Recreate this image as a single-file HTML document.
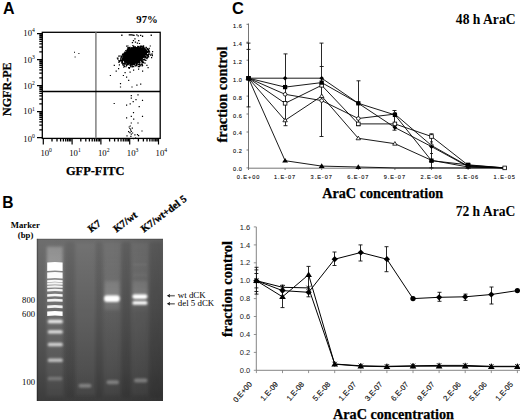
<!DOCTYPE html>
<html><head><meta charset="utf-8"><style>
html,body{margin:0;padding:0;background:#fff;width:520px;height:420px;overflow:hidden}
svg{display:block}
</style></head><body>
<svg width="520" height="420" viewBox="0 0 520 420"><text x="3" y="14" font-family="Liberation Sans" font-weight="bold" font-size="16">A</text>
<text x="136.3" y="22.6" font-family="Liberation Serif" font-weight="bold" font-size="10.7">97%</text>
<rect x="42.3" y="32.3" width="117.89999999999999" height="106.10000000000001" fill="none" stroke="#000" stroke-width="1.3"/>
<line x1="95.9" y1="32.3" x2="95.9" y2="138.4" stroke="#808080" stroke-width="1.5"/>
<line x1="42.3" y1="91.5" x2="160.2" y2="91.5" stroke="#000" stroke-width="1.6"/>
<path d="M43.3 138.4v6.2 M72.1 138.4v6.2 M100.9 138.4v6.2 M129.7 138.4v6.2 M158.5 138.4v6.2 M42.3 137.6h-5.3 M42.3 111.6h-5.3 M42.3 85.6h-5.3 M42.3 59.6h-5.3 M42.3 33.6h-5.3" stroke="#000" stroke-width="1.2" fill="none"/>
<path d="M52.0 138.4v3 M57.0 138.4v3 M60.6 138.4v3 M63.4 138.4v3 M65.7 138.4v3 M67.6 138.4v3 M69.3 138.4v3 M70.8 138.4v3 M80.8 138.4v3 M85.8 138.4v3 M89.4 138.4v3 M92.2 138.4v3 M94.5 138.4v3 M96.4 138.4v3 M98.1 138.4v3 M99.6 138.4v3 M109.6 138.4v3 M114.6 138.4v3 M118.2 138.4v3 M121.0 138.4v3 M123.3 138.4v3 M125.2 138.4v3 M126.9 138.4v3 M128.4 138.4v3 M138.4 138.4v3 M143.4 138.4v3 M147.0 138.4v3 M149.8 138.4v3 M152.1 138.4v3 M154.0 138.4v3 M155.7 138.4v3 M157.2 138.4v3 M42.3 129.8h-3 M42.3 125.2h-3 M42.3 121.9h-3 M42.3 119.4h-3 M42.3 117.4h-3 M42.3 115.6h-3 M42.3 114.1h-3 M42.3 112.8h-3 M42.3 103.8h-3 M42.3 99.2h-3 M42.3 95.9h-3 M42.3 93.4h-3 M42.3 91.4h-3 M42.3 89.6h-3 M42.3 88.1h-3 M42.3 86.8h-3 M42.3 77.8h-3 M42.3 73.2h-3 M42.3 69.9h-3 M42.3 67.4h-3 M42.3 65.4h-3 M42.3 63.6h-3 M42.3 62.1h-3 M42.3 60.8h-3 M42.3 51.8h-3 M42.3 47.2h-3 M42.3 43.9h-3 M42.3 41.4h-3 M42.3 39.4h-3 M42.3 37.6h-3 M42.3 36.1h-3 M42.3 34.8h-3" stroke="#000" stroke-width="1.3" fill="none"/>
<text x="40.4" y="155.8" font-family="Liberation Serif" font-size="8.7">10<tspan dy="-3.6" font-size="5.7">0</tspan></text>
<text x="23.3" y="142.0" font-family="Liberation Serif" font-size="8.7">10<tspan dy="-3.6" font-size="5.7">0</tspan></text>
<text x="69.2" y="155.8" font-family="Liberation Serif" font-size="8.7">10<tspan dy="-3.6" font-size="5.7">1</tspan></text>
<text x="23.3" y="114.4" font-family="Liberation Serif" font-size="8.7">10<tspan dy="-3.6" font-size="5.7">1</tspan></text>
<text x="98.0" y="155.8" font-family="Liberation Serif" font-size="8.7">10<tspan dy="-3.6" font-size="5.7">2</tspan></text>
<text x="23.3" y="88.8" font-family="Liberation Serif" font-size="8.7">10<tspan dy="-3.6" font-size="5.7">2</tspan></text>
<text x="126.8" y="155.8" font-family="Liberation Serif" font-size="8.7">10<tspan dy="-3.6" font-size="5.7">3</tspan></text>
<text x="23.3" y="62.7" font-family="Liberation Serif" font-size="8.7">10<tspan dy="-3.6" font-size="5.7">3</tspan></text>
<text x="155.6" y="155.8" font-family="Liberation Serif" font-size="8.7">10<tspan dy="-3.6" font-size="5.7">4</tspan></text>
<text x="23.3" y="35.8" font-family="Liberation Serif" font-size="8.7">10<tspan dy="-3.6" font-size="5.7">4</tspan></text>
<text x="95.2" y="174.8" text-anchor="middle" font-family="Liberation Serif" font-weight="bold" font-size="12.4" stroke="#000" stroke-width="0.25">GFP-FITC</text>
<text transform="translate(11.3 89.2) rotate(-90)" text-anchor="middle" font-family="Liberation Serif" font-weight="bold" font-size="12.1" stroke="#000" stroke-width="0.25">NGFR-PE</text>
<path d="M128.5 48.7 L136.7 47.0 L143.4 48.0 L146.4 51.4 L145.5 56.1 L142.0 59.5 L138.7 62.8 L134.0 64.2 L128.5 64.2 L124.5 62.2 L121.8 58.8 L123.2 55.4 L125.8 52.0z" fill="#000"/>
<path d="M134.7 51.9h1.3v1.3h-1.3zM136.5 53.1h1.3v1.3h-1.3zM139.4 52.2h1.3v1.3h-1.3zM141.3 54.2h1.3v1.3h-1.3zM124.5 60.3h1.3v1.3h-1.3zM130.8 49.4h1.3v1.3h-1.3zM121.2 59.8h1.3v1.3h-1.3zM143.6 48.9h1.3v1.3h-1.3zM142.0 60.6h1.3v1.3h-1.3zM136.7 55.3h1.3v1.3h-1.3zM131.8 63.2h1.3v1.3h-1.3zM147.8 48.8h1.3v1.3h-1.3zM127.7 63.4h1.3v1.3h-1.3zM122.8 53.8h1.3v1.3h-1.3zM120.7 56.4h1.3v1.3h-1.3zM137.1 48.0h1.3v1.3h-1.3zM127.0 59.5h1.3v1.3h-1.3zM133.7 61.5h1.3v1.3h-1.3zM128.0 53.2h1.3v1.3h-1.3zM131.4 56.4h1.3v1.3h-1.3zM120.4 57.7h1.3v1.3h-1.3zM144.5 56.2h1.3v1.3h-1.3zM126.1 58.8h1.3v1.3h-1.3zM121.1 60.3h1.3v1.3h-1.3zM121.9 53.9h1.3v1.3h-1.3zM126.3 55.4h1.3v1.3h-1.3zM133.1 58.2h1.3v1.3h-1.3zM143.4 59.1h1.3v1.3h-1.3zM125.0 57.7h1.3v1.3h-1.3zM145.5 57.3h1.3v1.3h-1.3zM138.2 57.2h1.3v1.3h-1.3zM133.6 64.3h1.3v1.3h-1.3zM130.8 58.3h1.3v1.3h-1.3zM128.3 56.5h1.3v1.3h-1.3zM133.7 50.9h1.3v1.3h-1.3zM135.5 54.7h1.3v1.3h-1.3zM138.7 57.5h1.3v1.3h-1.3zM136.2 64.6h1.3v1.3h-1.3zM141.7 54.2h1.3v1.3h-1.3zM130.9 50.9h1.3v1.3h-1.3zM134.2 47.1h1.3v1.3h-1.3zM144.9 49.0h1.3v1.3h-1.3zM143.7 58.9h1.3v1.3h-1.3zM147.7 54.4h1.3v1.3h-1.3zM128.1 57.3h1.3v1.3h-1.3zM128.6 51.2h1.3v1.3h-1.3zM123.5 55.5h1.3v1.3h-1.3zM124.2 51.6h1.3v1.3h-1.3zM131.8 57.1h1.3v1.3h-1.3zM136.9 58.1h1.3v1.3h-1.3zM127.9 50.4h1.3v1.3h-1.3zM135.7 61.9h1.3v1.3h-1.3zM138.8 63.9h1.3v1.3h-1.3zM133.1 58.3h1.3v1.3h-1.3zM143.9 47.6h1.3v1.3h-1.3zM132.7 52.5h1.3v1.3h-1.3zM132.0 64.0h1.3v1.3h-1.3zM144.2 49.6h1.3v1.3h-1.3zM141.1 49.1h1.3v1.3h-1.3zM133.8 55.7h1.3v1.3h-1.3zM130.7 48.2h1.3v1.3h-1.3zM119.7 60.1h1.3v1.3h-1.3zM130.7 49.5h1.3v1.3h-1.3zM127.1 52.9h1.3v1.3h-1.3zM126.6 54.3h1.3v1.3h-1.3zM143.7 55.1h1.3v1.3h-1.3zM131.7 51.1h1.3v1.3h-1.3zM140.2 49.4h1.3v1.3h-1.3zM135.6 53.0h1.3v1.3h-1.3zM132.9 46.4h1.3v1.3h-1.3zM144.5 53.7h1.3v1.3h-1.3zM129.0 57.9h1.3v1.3h-1.3zM127.3 50.9h1.3v1.3h-1.3zM133.2 61.9h1.3v1.3h-1.3zM128.4 54.9h1.3v1.3h-1.3zM134.0 63.9h1.3v1.3h-1.3zM131.0 59.0h1.3v1.3h-1.3zM139.7 49.5h1.3v1.3h-1.3zM134.1 60.1h1.3v1.3h-1.3zM123.9 55.5h1.3v1.3h-1.3zM132.9 63.6h1.3v1.3h-1.3zM129.3 47.8h1.3v1.3h-1.3zM125.6 54.0h1.3v1.3h-1.3zM141.4 45.5h1.3v1.3h-1.3zM133.2 45.8h1.3v1.3h-1.3zM140.6 52.4h1.3v1.3h-1.3zM127.2 50.6h1.3v1.3h-1.3zM147.8 54.4h1.3v1.3h-1.3zM120.8 56.1h1.3v1.3h-1.3zM127.8 47.5h1.3v1.3h-1.3zM129.8 56.8h1.3v1.3h-1.3zM137.9 50.5h1.3v1.3h-1.3zM124.7 51.8h1.3v1.3h-1.3zM142.6 55.0h1.3v1.3h-1.3zM138.5 63.6h1.3v1.3h-1.3zM136.1 52.2h1.3v1.3h-1.3zM136.6 50.4h1.3v1.3h-1.3zM133.3 46.8h1.3v1.3h-1.3zM137.4 61.6h1.3v1.3h-1.3zM121.7 60.8h1.3v1.3h-1.3zM140.0 45.7h1.3v1.3h-1.3zM128.2 58.9h1.3v1.3h-1.3zM128.9 48.8h1.3v1.3h-1.3zM124.4 59.5h1.3v1.3h-1.3zM126.4 53.8h1.3v1.3h-1.3zM127.1 57.2h1.3v1.3h-1.3zM133.8 52.6h1.3v1.3h-1.3zM137.6 58.9h1.3v1.3h-1.3zM138.8 49.6h1.3v1.3h-1.3zM129.3 60.1h1.3v1.3h-1.3zM129.6 63.0h1.3v1.3h-1.3zM130.6 54.7h1.3v1.3h-1.3zM132.5 46.9h1.3v1.3h-1.3zM133.2 52.4h1.3v1.3h-1.3zM133.3 50.1h1.3v1.3h-1.3zM139.3 51.7h1.3v1.3h-1.3zM139.0 53.0h1.3v1.3h-1.3zM146.7 48.1h1.3v1.3h-1.3zM137.0 63.2h1.3v1.3h-1.3zM138.3 54.4h1.3v1.3h-1.3zM120.3 60.2h1.3v1.3h-1.3zM137.1 45.8h1.3v1.3h-1.3zM138.7 56.0h1.3v1.3h-1.3zM128.5 48.0h1.3v1.3h-1.3zM135.9 51.3h1.3v1.3h-1.3zM139.7 54.9h1.3v1.3h-1.3zM128.7 47.0h1.3v1.3h-1.3zM133.3 62.4h1.3v1.3h-1.3zM144.3 55.7h1.3v1.3h-1.3zM144.1 55.2h1.3v1.3h-1.3zM142.7 48.1h1.3v1.3h-1.3zM135.5 54.6h1.3v1.3h-1.3zM146.3 57.9h1.3v1.3h-1.3zM122.2 62.4h1.3v1.3h-1.3zM144.3 50.4h1.3v1.3h-1.3zM139.0 64.3h1.3v1.3h-1.3zM130.1 65.5h1.3v1.3h-1.3zM136.2 49.7h1.3v1.3h-1.3zM141.9 62.1h1.3v1.3h-1.3zM139.1 48.9h1.3v1.3h-1.3zM124.7 54.1h1.3v1.3h-1.3zM126.9 50.2h1.3v1.3h-1.3zM126.0 64.8h1.3v1.3h-1.3zM134.7 46.2h1.3v1.3h-1.3zM142.2 56.9h1.3v1.3h-1.3zM138.9 51.5h1.3v1.3h-1.3zM128.5 53.0h1.3v1.3h-1.3zM120.7 55.5h1.3v1.3h-1.3zM126.0 50.4h1.3v1.3h-1.3zM143.7 54.5h1.3v1.3h-1.3zM141.9 57.0h1.3v1.3h-1.3zM139.1 55.6h1.3v1.3h-1.3zM129.4 46.7h1.3v1.3h-1.3zM139.5 55.2h1.3v1.3h-1.3zM124.4 61.9h1.3v1.3h-1.3zM139.0 47.5h1.3v1.3h-1.3zM129.5 55.3h1.3v1.3h-1.3zM138.6 53.6h1.3v1.3h-1.3zM145.8 52.8h1.3v1.3h-1.3zM134.9 65.3h1.3v1.3h-1.3zM133.6 62.3h1.3v1.3h-1.3zM122.6 53.2h1.3v1.3h-1.3zM129.3 64.5h1.3v1.3h-1.3zM131.6 59.4h1.3v1.3h-1.3zM126.2 62.3h1.3v1.3h-1.3zM131.5 49.2h1.3v1.3h-1.3zM148.4 51.5h1.3v1.3h-1.3zM127.3 47.6h1.3v1.3h-1.3zM123.9 56.2h1.3v1.3h-1.3zM129.7 62.2h1.3v1.3h-1.3zM140.3 51.8h1.3v1.3h-1.3zM140.2 47.5h1.3v1.3h-1.3zM135.5 48.1h1.3v1.3h-1.3zM132.6 56.9h1.3v1.3h-1.3zM131.5 59.4h1.3v1.3h-1.3zM127.2 53.9h1.3v1.3h-1.3zM139.3 62.2h1.3v1.3h-1.3zM133.5 56.4h1.3v1.3h-1.3zM126.8 56.0h1.3v1.3h-1.3zM129.4 59.1h1.3v1.3h-1.3zM148.0 49.1h1.3v1.3h-1.3zM148.1 53.3h1.3v1.3h-1.3zM133.2 48.3h1.3v1.3h-1.3zM125.2 50.0h1.3v1.3h-1.3zM123.8 60.3h1.3v1.3h-1.3zM138.4 61.8h1.3v1.3h-1.3zM142.0 60.7h1.3v1.3h-1.3zM141.3 46.1h1.3v1.3h-1.3zM140.7 55.4h1.3v1.3h-1.3zM140.2 52.0h1.3v1.3h-1.3zM135.9 47.8h1.3v1.3h-1.3zM123.9 54.0h1.3v1.3h-1.3zM124.6 54.4h1.3v1.3h-1.3zM139.6 46.1h1.3v1.3h-1.3zM143.1 47.2h1.3v1.3h-1.3zM126.9 59.8h1.3v1.3h-1.3zM130.2 63.7h1.3v1.3h-1.3zM126.7 62.5h1.3v1.3h-1.3zM139.0 53.9h1.3v1.3h-1.3zM136.1 49.1h1.3v1.3h-1.3zM125.3 61.0h1.3v1.3h-1.3zM137.7 49.7h1.3v1.3h-1.3zM127.3 64.0h1.3v1.3h-1.3zM147.1 48.8h1.3v1.3h-1.3zM129.4 60.3h1.3v1.3h-1.3zM136.3 48.4h1.3v1.3h-1.3zM137.9 63.8h1.3v1.3h-1.3zM146.4 55.5h1.3v1.3h-1.3zM145.5 46.8h1.3v1.3h-1.3zM131.9 60.4h1.3v1.3h-1.3zM126.7 59.4h1.3v1.3h-1.3zM128.5 57.7h1.3v1.3h-1.3zM137.5 51.1h1.3v1.3h-1.3zM136.1 47.9h1.3v1.3h-1.3zM145.8 54.2h1.3v1.3h-1.3zM137.5 53.1h1.3v1.3h-1.3zM121.8 59.5h1.3v1.3h-1.3zM140.8 52.9h1.3v1.3h-1.3zM141.1 49.4h1.3v1.3h-1.3zM130.8 50.9h1.3v1.3h-1.3zM147.9 56.1h1.3v1.3h-1.3zM142.8 59.0h1.3v1.3h-1.3zM122.3 53.6h1.3v1.3h-1.3zM148.6 50.7h1.3v1.3h-1.3zM140.7 46.0h1.3v1.3h-1.3zM132.0 48.9h1.3v1.3h-1.3zM143.4 49.2h1.3v1.3h-1.3zM147.1 51.0h1.3v1.3h-1.3zM138.0 56.8h1.3v1.3h-1.3zM143.7 53.5h1.3v1.3h-1.3zM147.3 50.7h1.3v1.3h-1.3zM127.1 60.6h1.3v1.3h-1.3zM130.5 57.6h1.3v1.3h-1.3zM133.6 58.2h1.3v1.3h-1.3zM136.5 57.9h1.3v1.3h-1.3zM132.7 57.0h1.3v1.3h-1.3zM127.9 54.0h1.3v1.3h-1.3zM145.7 50.9h1.3v1.3h-1.3zM139.1 51.8h1.3v1.3h-1.3zM129.9 57.2h1.3v1.3h-1.3zM139.5 48.1h1.3v1.3h-1.3zM141.2 48.4h1.3v1.3h-1.3zM138.6 47.5h1.3v1.3h-1.3zM133.9 54.5h1.3v1.3h-1.3zM124.0 62.6h1.3v1.3h-1.3zM122.3 55.7h1.3v1.3h-1.3zM123.5 53.4h1.3v1.3h-1.3zM136.2 62.7h1.3v1.3h-1.3zM131.2 58.8h1.3v1.3h-1.3zM138.2 55.8h1.3v1.3h-1.3zM120.2 57.5h1.3v1.3h-1.3zM127.6 60.3h1.3v1.3h-1.3zM135.6 56.7h1.3v1.3h-1.3zM130.2 65.9h1.3v1.3h-1.3zM126.2 63.7h1.3v1.3h-1.3zM144.9 56.1h1.3v1.3h-1.3zM136.3 53.9h1.3v1.3h-1.3zM137.9 52.4h1.3v1.3h-1.3zM130.8 55.4h1.3v1.3h-1.3zM143.3 49.1h1.3v1.3h-1.3zM128.0 59.1h1.3v1.3h-1.3zM127.7 50.2h1.3v1.3h-1.3zM133.0 54.9h1.3v1.3h-1.3zM136.0 56.9h1.3v1.3h-1.3zM133.8 57.7h1.3v1.3h-1.3zM141.5 52.8h1.3v1.3h-1.3zM126.5 60.6h1.3v1.3h-1.3zM141.1 58.0h1.3v1.3h-1.3zM128.4 59.3h1.3v1.3h-1.3zM130.2 61.7h1.3v1.3h-1.3zM133.5 57.2h1.3v1.3h-1.3zM139.0 60.9h1.3v1.3h-1.3zM124.1 64.2h1.3v1.3h-1.3zM140.7 45.5h1.3v1.3h-1.3zM132.9 59.0h1.3v1.3h-1.3zM122.2 62.6h1.3v1.3h-1.3zM136.4 53.6h1.3v1.3h-1.3zM145.4 50.3h1.3v1.3h-1.3zM142.9 51.4h1.3v1.3h-1.3zM136.8 51.3h1.3v1.3h-1.3zM130.7 52.7h1.3v1.3h-1.3zM130.2 61.6h1.3v1.3h-1.3zM147.5 49.5h1.3v1.3h-1.3zM143.0 46.4h1.3v1.3h-1.3zM134.6 52.7h1.3v1.3h-1.3zM140.6 51.0h1.3v1.3h-1.3zM133.2 46.6h1.3v1.3h-1.3zM142.5 47.9h1.3v1.3h-1.3zM138.0 46.1h1.3v1.3h-1.3zM133.6 58.6h1.3v1.3h-1.3zM127.7 63.0h1.3v1.3h-1.3zM136.1 49.8h1.3v1.3h-1.3zM124.8 63.2h1.3v1.3h-1.3zM126.6 57.0h1.3v1.3h-1.3zM123.0 53.3h1.3v1.3h-1.3zM140.5 51.4h1.3v1.3h-1.3zM129.0 63.0h1.3v1.3h-1.3zM142.2 47.4h1.3v1.3h-1.3zM148.9 51.4h1.3v1.3h-1.3zM123.9 52.5h1.3v1.3h-1.3zM143.0 47.7h1.3v1.3h-1.3zM130.0 64.0h1.3v1.3h-1.3zM142.0 53.0h1.3v1.3h-1.3zM138.9 55.2h1.3v1.3h-1.3zM129.7 57.5h1.3v1.3h-1.3zM122.0 58.8h1.3v1.3h-1.3zM135.0 47.5h1.3v1.3h-1.3zM133.7 54.9h1.3v1.3h-1.3zM137.5 55.5h1.3v1.3h-1.3zM124.9 55.8h1.3v1.3h-1.3zM140.0 47.6h1.3v1.3h-1.3zM148.0 50.2h1.3v1.3h-1.3zM127.0 58.9h1.3v1.3h-1.3zM136.1 61.9h1.3v1.3h-1.3zM132.7 57.0h1.3v1.3h-1.3zM146.2 54.2h1.3v1.3h-1.3zM123.0 63.1h1.3v1.3h-1.3zM133.7 54.0h1.3v1.3h-1.3zM125.6 54.7h1.3v1.3h-1.3zM123.6 54.8h1.3v1.3h-1.3zM135.9 51.2h1.3v1.3h-1.3zM124.9 55.5h1.3v1.3h-1.3zM141.1 61.1h1.3v1.3h-1.3zM123.7 59.7h1.3v1.3h-1.3zM139.8 49.4h1.3v1.3h-1.3zM141.2 55.0h1.3v1.3h-1.3zM127.1 60.1h1.3v1.3h-1.3zM129.2 58.1h1.3v1.3h-1.3zM136.0 53.1h1.3v1.3h-1.3zM134.4 47.6h1.3v1.3h-1.3zM132.5 59.1h1.3v1.3h-1.3zM120.4 59.8h1.3v1.3h-1.3zM135.3 65.2h1.3v1.3h-1.3zM142.5 54.2h1.3v1.3h-1.3zM141.1 47.7h1.3v1.3h-1.3zM141.3 52.9h1.3v1.3h-1.3zM131.5 59.9h1.3v1.3h-1.3zM127.8 51.4h1.3v1.3h-1.3zM140.9 48.4h1.3v1.3h-1.3zM122.6 57.0h1.3v1.3h-1.3zM122.1 59.6h1.3v1.3h-1.3zM139.1 62.1h1.3v1.3h-1.3zM126.7 48.7h1.3v1.3h-1.3zM144.0 57.3h1.3v1.3h-1.3zM139.2 51.3h1.3v1.3h-1.3zM135.3 53.4h1.3v1.3h-1.3zM132.1 52.0h1.3v1.3h-1.3zM130.8 54.9h1.3v1.3h-1.3zM136.2 49.5h1.3v1.3h-1.3zM143.4 58.9h1.3v1.3h-1.3zM142.4 46.3h1.3v1.3h-1.3zM139.8 45.5h1.3v1.3h-1.3zM139.9 53.4h1.3v1.3h-1.3zM141.2 50.8h1.3v1.3h-1.3zM125.4 56.8h1.3v1.3h-1.3zM137.5 47.8h1.3v1.3h-1.3zM147.4 54.1h1.3v1.3h-1.3zM134.8 60.4h1.3v1.3h-1.3zM135.5 63.0h1.3v1.3h-1.3zM137.7 50.6h1.3v1.3h-1.3zM144.1 47.8h1.3v1.3h-1.3zM145.7 49.8h1.3v1.3h-1.3zM130.8 48.6h1.3v1.3h-1.3zM131.9 62.9h1.3v1.3h-1.3zM145.6 51.8h1.3v1.3h-1.3zM145.8 47.2h1.3v1.3h-1.3zM139.3 51.1h1.3v1.3h-1.3zM146.8 55.5h1.3v1.3h-1.3zM122.1 54.5h1.3v1.3h-1.3zM120.0 59.6h1.3v1.3h-1.3zM137.5 55.2h1.3v1.3h-1.3zM133.2 46.8h1.3v1.3h-1.3zM126.3 56.9h1.3v1.3h-1.3zM128.8 59.2h1.3v1.3h-1.3zM135.0 58.9h1.3v1.3h-1.3zM128.4 50.1h1.3v1.3h-1.3zM127.8 52.6h1.3v1.3h-1.3zM121.7 61.2h1.3v1.3h-1.3zM127.3 47.1h1.3v1.3h-1.3zM141.9 50.3h1.3v1.3h-1.3zM139.7 58.9h1.3v1.3h-1.3zM144.2 52.4h1.3v1.3h-1.3zM142.8 53.0h1.3v1.3h-1.3zM134.2 61.3h1.3v1.3h-1.3zM141.2 50.2h1.3v1.3h-1.3zM138.9 58.6h1.3v1.3h-1.3zM131.8 65.4h1.3v1.3h-1.3zM134.0 56.1h1.3v1.3h-1.3zM134.1 58.0h1.3v1.3h-1.3zM131.2 62.3h1.3v1.3h-1.3zM142.0 55.1h1.3v1.3h-1.3zM141.3 51.9h1.3v1.3h-1.3zM134.0 47.0h1.3v1.3h-1.3zM127.1 50.9h1.3v1.3h-1.3zM143.0 48.4h1.3v1.3h-1.3zM130.4 52.0h1.3v1.3h-1.3zM142.8 49.2h1.3v1.3h-1.3zM128.8 62.6h1.3v1.3h-1.3zM147.3 51.4h1.3v1.3h-1.3zM127.7 60.0h1.3v1.3h-1.3zM127.1 63.3h1.3v1.3h-1.3zM144.8 52.4h1.3v1.3h-1.3zM134.2 56.9h1.3v1.3h-1.3zM131.3 55.6h1.3v1.3h-1.3zM130.2 56.7h1.3v1.3h-1.3zM141.3 59.0h1.3v1.3h-1.3zM144.7 59.4h1.3v1.3h-1.3zM142.7 56.3h1.3v1.3h-1.3zM129.2 60.2h1.3v1.3h-1.3zM125.4 57.7h1.3v1.3h-1.3zM133.5 54.0h1.3v1.3h-1.3zM134.7 52.2h1.3v1.3h-1.3zM131.4 56.6h1.3v1.3h-1.3zM136.9 51.9h1.3v1.3h-1.3zM134.5 53.5h1.3v1.3h-1.3zM136.0 50.3h1.3v1.3h-1.3zM146.8 56.9h1.3v1.3h-1.3zM129.1 63.0h1.3v1.3h-1.3zM136.8 50.1h1.3v1.3h-1.3zM127.5 62.3h1.3v1.3h-1.3zM120.3 58.7h1.3v1.3h-1.3zM143.5 54.3h1.3v1.3h-1.3zM144.5 56.9h1.3v1.3h-1.3zM137.5 58.5h1.3v1.3h-1.3zM125.3 55.1h1.3v1.3h-1.3zM137.4 55.5h1.3v1.3h-1.3zM126.2 52.2h1.3v1.3h-1.3zM132.8 58.4h1.3v1.3h-1.3zM133.3 51.9h1.3v1.3h-1.3zM136.2 64.2h1.3v1.3h-1.3zM133.8 49.1h1.3v1.3h-1.3zM136.6 46.9h1.3v1.3h-1.3zM121.3 60.8h1.3v1.3h-1.3zM138.4 64.3h1.3v1.3h-1.3zM147.5 51.0h1.3v1.3h-1.3zM147.3 55.5h1.3v1.3h-1.3zM132.1 56.9h1.3v1.3h-1.3zM137.2 54.5h1.3v1.3h-1.3zM131.1 47.0h1.3v1.3h-1.3zM125.6 60.6h1.3v1.3h-1.3zM147.4 53.9h1.3v1.3h-1.3zM137.8 55.4h1.3v1.3h-1.3zM138.5 49.1h1.3v1.3h-1.3zM142.3 54.8h1.3v1.3h-1.3zM128.1 57.0h1.3v1.3h-1.3zM126.6 63.1h1.3v1.3h-1.3zM139.1 52.3h1.3v1.3h-1.3zM134.0 63.7h1.3v1.3h-1.3zM141.4 59.2h1.3v1.3h-1.3zM139.5 48.7h1.3v1.3h-1.3zM145.1 49.1h1.3v1.3h-1.3zM135.0 54.0h1.3v1.3h-1.3zM146.5 51.2h1.3v1.3h-1.3zM123.7 52.6h1.3v1.3h-1.3zM124.8 54.7h1.3v1.3h-1.3zM128.1 52.6h1.3v1.3h-1.3zM144.8 55.9h1.3v1.3h-1.3zM135.7 63.5h1.3v1.3h-1.3zM144.6 48.5h1.3v1.3h-1.3zM134.3 49.0h1.3v1.3h-1.3zM139.0 47.9h1.3v1.3h-1.3zM139.2 64.3h1.3v1.3h-1.3zM145.6 53.0h1.3v1.3h-1.3zM125.7 52.9h1.3v1.3h-1.3zM147.1 51.3h1.3v1.3h-1.3zM134.5 57.8h1.3v1.3h-1.3zM140.7 60.0h1.3v1.3h-1.3zM128.6 59.8h1.3v1.3h-1.3zM144.7 57.0h1.3v1.3h-1.3zM142.4 61.3h1.3v1.3h-1.3zM146.9 51.7h1.3v1.3h-1.3zM148.6 50.4h1.3v1.3h-1.3zM139.0 50.9h1.3v1.3h-1.3zM125.2 59.6h1.3v1.3h-1.3zM136.9 53.2h1.3v1.3h-1.3zM133.6 60.4h1.3v1.3h-1.3zM130.9 63.9h1.3v1.3h-1.3zM142.6 55.3h1.3v1.3h-1.3zM128.5 48.7h1.3v1.3h-1.3zM133.7 54.7h1.3v1.3h-1.3zM135.8 64.6h1.3v1.3h-1.3zM147.0 55.3h1.3v1.3h-1.3zM135.9 57.3h1.3v1.3h-1.3zM143.7 52.6h1.3v1.3h-1.3zM119.8 60.2h1.3v1.3h-1.3zM132.3 62.3h1.3v1.3h-1.3zM131.0 60.3h1.3v1.3h-1.3zM131.7 53.2h1.3v1.3h-1.3zM141.8 55.9h1.3v1.3h-1.3zM133.1 61.6h1.3v1.3h-1.3zM135.1 49.1h1.3v1.3h-1.3zM139.9 45.9h1.3v1.3h-1.3zM126.9 49.5h1.3v1.3h-1.3zM141.9 60.8h1.3v1.3h-1.3zM133.9 55.3h1.3v1.3h-1.3zM128.7 61.2h1.3v1.3h-1.3zM130.3 64.8h1.3v1.3h-1.3zM126.0 50.3h1.3v1.3h-1.3zM144.6 48.4h1.3v1.3h-1.3zM124.4 61.8h1.3v1.3h-1.3zM118.2 55.5h1.2v1.2h-1.2zM149.7 45.4h1.2v1.2h-1.2zM144.4 62.5h1.2v1.2h-1.2zM151.4 53.2h1.2v1.2h-1.2zM127.4 45.4h1.2v1.2h-1.2zM119.3 55.4h1.2v1.2h-1.2zM139.5 65.2h1.2v1.2h-1.2zM138.9 42.9h1.2v1.2h-1.2zM143.0 62.1h1.2v1.2h-1.2zM128.0 67.1h1.2v1.2h-1.2zM117.3 58.6h1.2v1.2h-1.2zM125.4 66.1h1.2v1.2h-1.2zM118.9 60.8h1.2v1.2h-1.2zM121.0 62.3h1.2v1.2h-1.2zM123.2 66.5h1.2v1.2h-1.2zM151.5 54.2h1.2v1.2h-1.2zM140.2 64.3h1.2v1.2h-1.2zM151.8 55.1h1.2v1.2h-1.2zM141.0 63.5h1.2v1.2h-1.2zM122.1 63.5h1.2v1.2h-1.2zM118.8 64.3h1.2v1.2h-1.2zM141.8 64.8h1.2v1.2h-1.2zM123.8 65.7h1.2v1.2h-1.2zM138.7 66.1h1.2v1.2h-1.2zM148.6 47.8h1.2v1.2h-1.2zM129.0 66.9h1.2v1.2h-1.2zM122.6 64.8h1.2v1.2h-1.2zM133.1 66.1h1.2v1.2h-1.2zM132.3 45.0h1.2v1.2h-1.2zM126.1 45.5h1.2v1.2h-1.2zM150.0 54.6h1.2v1.2h-1.2zM141.6 65.3h1.2v1.2h-1.2zM143.0 45.3h1.2v1.2h-1.2zM137.7 66.0h1.2v1.2h-1.2zM118.3 60.0h1.2v1.2h-1.2zM128.7 67.9h1.2v1.2h-1.2zM131.7 66.3h1.2v1.2h-1.2zM142.0 64.9h1.2v1.2h-1.2zM118.5 61.3h1.2v1.2h-1.2zM117.3 57.5h1.2v1.2h-1.2zM149.2 53.6h1.2v1.2h-1.2zM116.8 57.5h1.2v1.2h-1.2zM145.3 59.9h1.2v1.2h-1.2zM141.7 63.9h1.2v1.2h-1.2zM118.3 61.9h1.2v1.2h-1.2zM109.8 74.9h1.2v1.2h-1.2zM122.8 74.9h1.2v1.2h-1.2zM128.1 79.7h1.2v1.2h-1.2zM119.9 83.1h1.2v1.2h-1.2zM119.9 86.4h1.2v1.2h-1.2zM131.4 86.4h1.2v1.2h-1.2zM136.3 84.5h1.2v1.2h-1.2zM140.1 83.6h1.2v1.2h-1.2zM142.0 70.6h1.2v1.2h-1.2zM115.6 70.6h1.2v1.2h-1.2zM113.7 64.8h1.2v1.2h-1.2zM146.3 64.8h1.2v1.2h-1.2zM124.5 72.0h1.2v1.2h-1.2zM129.5 71.5h1.2v1.2h-1.2zM133.0 69.5h1.2v1.2h-1.2zM118.0 68.0h1.2v1.2h-1.2zM138.0 68.5h1.2v1.2h-1.2zM126.0 76.5h1.2v1.2h-1.2zM147.5 67.0h1.2v1.2h-1.2zM152.0 51.0h1.2v1.2h-1.2zM151.0 57.0h1.2v1.2h-1.2zM121.2 34.6h1.3v1.3h-1.3zM128.7 34.3h1.3v1.3h-1.3zM129.9 34.3h1.3v1.3h-1.3zM131.1 34.2h1.3v1.3h-1.3zM132.4 34.4h1.3v1.3h-1.3zM133.4 34.8h1.3v1.3h-1.3zM136.2 34.2h1.3v1.3h-1.3zM137.6 35.3h1.3v1.3h-1.3zM140.0 34.7h1.3v1.3h-1.3zM141.9 35.6h1.3v1.3h-1.3zM150.6 34.6h1.3v1.3h-1.3zM134.3 38.2h1.3v1.3h-1.3zM132.8 40.0h1.3v1.3h-1.3zM138.1 40.0h1.3v1.3h-1.3zM134.8 41.5h1.3v1.3h-1.3zM131.8 41.9h1.3v1.3h-1.3zM136.8 42.4h1.3v1.3h-1.3zM130.7 95.0h1.2v1.2h-1.2zM130.7 97.6h1.2v1.2h-1.2zM137.4 94.3h1.2v1.2h-1.2zM135.4 99.0h1.2v1.2h-1.2zM141.9 99.7h1.2v1.2h-1.2zM113.6 102.9h1.2v1.2h-1.2zM126.0 104.6h1.2v1.2h-1.2zM129.6 103.3h1.2v1.2h-1.2zM132.6 101.1h1.2v1.2h-1.2zM138.6 106.1h1.2v1.2h-1.2zM132.9 112.1h1.2v1.2h-1.2zM130.7 115.7h1.2v1.2h-1.2zM126.0 117.3h1.2v1.2h-1.2zM141.9 115.7h1.2v1.2h-1.2zM133.1 118.6h1.2v1.2h-1.2zM130.7 122.4h1.2v1.2h-1.2zM137.4 122.4h1.2v1.2h-1.2zM128.6 126.4h1.2v1.2h-1.2zM129.3 127.9h1.2v1.2h-1.2zM130.0 129.3h1.2v1.2h-1.2zM130.7 130.7h1.2v1.2h-1.2zM129.3 132.1h1.2v1.2h-1.2zM130.7 133.6h1.2v1.2h-1.2zM136.9 134.0h1.2v1.2h-1.2zM141.4 130.4h1.2v1.2h-1.2zM126.4 135.3h1.2v1.2h-1.2zM135.0 137.6h1.2v1.2h-1.2zM128.6 137.9h1.2v1.2h-1.2zM132.9 138.1h1.2v1.2h-1.2zM129.7 125.4h1.2v1.2h-1.2zM131.7 127.6h1.2v1.2h-1.2zM128.0 131.0h1.2v1.2h-1.2zM132.0 132.4h1.2v1.2h-1.2zM130.3 135.7h1.2v1.2h-1.2zM134.3 134.3h1.2v1.2h-1.2zM138.0 135.0h1.2v1.2h-1.2zM74.0 51.8h1.0v1.0h-1.0zM74.6 56.4h1.0v1.0h-1.0zM78.4 52.9h1.0v1.0h-1.0z" fill="#000"/>
<text x="2.3" y="208" font-family="Liberation Sans" font-weight="bold" font-size="15.6">B</text>
<text x="25.3" y="227.8" text-anchor="middle" font-family="Liberation Serif" font-weight="bold" font-size="8.7">Marker</text>
<text x="25.6" y="238.4" text-anchor="middle" font-family="Liberation Serif" font-weight="bold" font-size="8.7">(bp)</text>
<text transform="translate(91 232.8) rotate(-37)" font-family="Liberation Serif" font-weight="bold" font-size="10.4" stroke="#000" stroke-width="0.3">K7</text>
<text transform="translate(116.4 232.8) rotate(-37)" font-family="Liberation Serif" font-weight="bold" font-size="10.4" stroke="#000" stroke-width="0.3">K7/wt</text>
<text transform="translate(144.1 232.8) rotate(-37)" font-family="Liberation Serif" font-weight="bold" font-size="10.4" stroke="#000" stroke-width="0.3">K7/wt+del 5</text>
<text x="35" y="303" text-anchor="end" font-family="Liberation Serif" font-size="8.6">800</text>
<text x="35" y="316.8" text-anchor="end" font-family="Liberation Serif" font-size="8.6">600</text>
<text x="35" y="384.6" text-anchor="end" font-family="Liberation Serif" font-size="8.6">100</text>
<text x="177.8" y="297.7" font-family="Liberation Serif" font-size="8.9">wt dCK</text>
<text x="177.8" y="305.7" font-family="Liberation Serif" font-size="8.9">del 5 dCK</text>
<path d="M166.8 295.7L170 293.9V297.5z" fill="#111"/><rect x="169.5" y="294.95" width="5.3" height="1.5" fill="#777"/>
<path d="M166.8 303.8L170 302.0V305.6z" fill="#111"/><rect x="169.5" y="303.05" width="5.3" height="1.5" fill="#777"/>
<defs><linearGradient id="gv" x1="0" y1="0" x2="0" y2="1"><stop offset="0" stop-color="#6e6e6e"/><stop offset="0.4" stop-color="#5d5d5d"/><stop offset="0.8" stop-color="#4a4a4a"/><stop offset="1" stop-color="#3c3c3c"/></linearGradient><linearGradient id="gh" x1="0" y1="0" x2="1" y2="0"><stop offset="0" stop-color="#000" stop-opacity="0.0"/><stop offset="0.6" stop-color="#000" stop-opacity="0.02"/><stop offset="1" stop-color="#000" stop-opacity="0.16"/></linearGradient><linearGradient id="lm" x1="0" y1="0" x2="0" y2="1"><stop offset="0" stop-color="#fff" stop-opacity="0.10"/><stop offset="0.25" stop-color="#fff" stop-opacity="0.28"/><stop offset="0.35" stop-color="#fff" stop-opacity="0.12"/><stop offset="1" stop-color="#fff" stop-opacity="0.04"/></linearGradient><linearGradient id="l2" x1="0" y1="0" x2="0" y2="1"><stop offset="0" stop-color="#fff" stop-opacity="0.04"/><stop offset="0.25" stop-color="#fff" stop-opacity="0.08"/><stop offset="0.33" stop-color="#fff" stop-opacity="0.14"/><stop offset="0.45" stop-color="#fff" stop-opacity="0.03"/><stop offset="1" stop-color="#fff" stop-opacity="0.03"/></linearGradient><filter id="bl" x="-50%" y="-50%" width="200%" height="200%"><feGaussianBlur stdDeviation="0.85"/></filter><filter id="bl2" x="-50%" y="-50%" width="200%" height="200%"><feGaussianBlur stdDeviation="1.6"/></filter><filter id="bl4" x="-50%" y="-50%" width="200%" height="200%"><feGaussianBlur stdDeviation="1.0"/></filter><filter id="bl3" x="-50%" y="-50%" width="200%" height="200%"><feGaussianBlur stdDeviation="0.55"/></filter></defs>
<rect x="36.8" y="238.8" width="126.2" height="162.2" fill="url(#gv)"/>
<rect x="36.8" y="238.8" width="126.2" height="162.2" fill="url(#gh)"/>
<rect x="36.8" y="238.8" width="1.3" height="162.2" fill="#000" opacity="0.25"/>
<rect x="36.8" y="238.8" width="126.2" height="1" fill="#000" opacity="0.18"/>
<g filter="url(#bl2)"><rect x="66" y="242" width="8" height="156" fill="#000" opacity="0.06"/><rect x="96" y="242" width="6" height="156" fill="#000" opacity="0.06"/><rect x="122" y="242" width="8" height="156" fill="#000" opacity="0.09"/><rect x="150" y="242" width="12" height="156" fill="#000" opacity="0.08"/></g>
<g filter="url(#bl2)">
<rect x="46.5" y="246" width="16.5" height="150" fill="url(#lm)"/>
<rect x="47" y="247" width="15.5" height="16" fill="#fff" opacity="0.16"/>
<rect x="76" y="243" width="19" height="152" fill="#fff" opacity="0.04"/>
<rect x="104" y="243" width="16" height="152" fill="url(#l2)"/>
<rect x="132" y="243" width="16" height="152" fill="url(#l2)"/>
<rect x="104.5" y="281" width="15" height="14" fill="#fff" opacity="0.10"/>
<rect x="104.5" y="302" width="15" height="8" fill="#fff" opacity="0.08"/>
<rect x="132.5" y="281" width="15" height="13" fill="#fff" opacity="0.08"/>
</g>
<g filter="url(#bl3)"><path d="M47.2 262.6Q55 261.6 62.6 262.6V271.0Q55 270.2 47.2 271.0z" fill="#fff" opacity="1.0"/><path d="M47.2 272.6Q55 271.6 62.6 272.6V278.4Q55 277.6 47.2 278.4z" fill="#fff" opacity="0.97"/><path d="M47.2 280.2Q55 279.2 62.6 280.2V282.2Q55 281.4 47.2 282.2z" fill="#fff" opacity="0.95"/><path d="M47.2 282.8Q55 281.8 62.6 282.8V284.8Q55 284.0 47.2 284.8z" fill="#fff" opacity="0.9"/><path d="M47.2 285.8Q55 284.8 62.6 285.8V287.8Q55 287.0 47.2 287.8z" fill="#fff" opacity="0.9"/><path d="M47.2 289.2Q55 288.2 62.6 289.2V291.4Q55 290.6 47.2 291.4z" fill="#fff" opacity="0.9"/><path d="M47.2 294.2Q55 293.2 62.6 294.2V296.8Q55 295.9 47.2 296.8z" fill="#fff" opacity="0.95"/><path d="M47.2 299.2Q55 298.2 62.6 299.2V301.8Q55 301.0 47.2 301.8z" fill="#fff" opacity="0.9"/><path d="M47.2 305.4Q55 304.4 62.6 305.4V308.2Q55 307.4 47.2 308.2z" fill="#fff" opacity="0.9"/><path d="M47.2 311.4Q55 310.4 62.6 311.4V315.9Q55 315.1 47.2 315.9z" fill="#fff" opacity="1.0"/></g>
<g filter="url(#bl)"><rect x="47.8" y="319.8" width="15" height="3.4" rx="1.5" fill="#fff" opacity="0.85"/><rect x="47.8" y="330.2" width="15" height="3.4" rx="1.5" fill="#fff" opacity="0.8"/><rect x="47.8" y="342.8" width="15" height="3.4" rx="1.5" fill="#fff" opacity="0.72"/><rect x="47.8" y="358.4" width="15" height="3.6" rx="1.5" fill="#fff" opacity="0.62"/></g>
<g filter="url(#bl)"><rect x="104" y="295.3" width="15.8" height="6.6" rx="3" fill="#fff"/><rect x="132.3" y="294.2" width="15.2" height="4.8" rx="2.4" fill="#fff"/><rect x="132.3" y="301" width="15.2" height="3.8" rx="1.9" fill="#fff" opacity="0.95"/><rect x="133" y="264" width="14" height="1.2" fill="#fff" opacity="0.08"/><rect x="133" y="274.5" width="14" height="1.2" fill="#fff" opacity="0.08"/></g>
<g filter="url(#bl4)"><rect x="78.5" y="383.8" width="13" height="4" rx="2" fill="#fff" opacity="0.3"/><rect x="106.5" y="380.2" width="12.5" height="4" rx="2" fill="#fff" opacity="0.3"/><rect x="134" y="378.5" width="13.5" height="4" rx="2" fill="#fff" opacity="0.3"/><rect x="47.5" y="376.8" width="15" height="3.8" rx="1.9" fill="#fff" opacity="0.22"/></g>
<text x="231.9" y="13.8" font-family="Liberation Sans" font-weight="bold" font-size="16.4">C</text>
<text x="515.5" y="24.1" text-anchor="end" font-family="Liberation Serif" font-weight="bold" font-size="13.6">48 h AraC</text>
<text x="382.7" y="198.2" text-anchor="middle" font-family="Liberation Serif" font-weight="bold" font-size="14.2" stroke="#000" stroke-width="0.25">AraC concentration</text>
<text transform="translate(227.3 94.5) rotate(-90)" text-anchor="middle" font-family="Liberation Serif" font-weight="bold" font-size="14.4" stroke="#000" stroke-width="0.25">fraction control</text>
<path d="M248.5 23.5V168.2H506.5" stroke="#666" stroke-width="0.9" fill="none"/>
<path d="M246.5 167.9h2M246.5 150.0h2M246.5 132.0h2M246.5 114.0h2M246.5 96.1h2M246.5 78.2h2M246.5 60.2h2M246.5 42.2h2M246.5 24.3h2M248.5 168.2v1.8M285.1 168.2v1.8M321.7 168.2v1.8M358.3 168.2v1.8M394.9 168.2v1.8M431.5 168.2v1.8M468.1 168.2v1.8M504.7 168.2v1.8" stroke="#555" stroke-width="0.8" fill="none"/>
<text x="242.3" y="171.3" text-anchor="end" font-family="Liberation Sans" font-size="5.6" letter-spacing="0.5" fill="#111" stroke="#111" stroke-width="0.12">0.0</text>
<text x="242.3" y="153.4" text-anchor="end" font-family="Liberation Sans" font-size="5.6" letter-spacing="0.5" fill="#111" stroke="#111" stroke-width="0.12">0.2</text>
<text x="242.3" y="135.4" text-anchor="end" font-family="Liberation Sans" font-size="5.6" letter-spacing="0.5" fill="#111" stroke="#111" stroke-width="0.12">0.4</text>
<text x="242.3" y="117.5" text-anchor="end" font-family="Liberation Sans" font-size="5.6" letter-spacing="0.5" fill="#111" stroke="#111" stroke-width="0.12">0.6</text>
<text x="242.3" y="99.5" text-anchor="end" font-family="Liberation Sans" font-size="5.6" letter-spacing="0.5" fill="#111" stroke="#111" stroke-width="0.12">0.8</text>
<text x="242.3" y="81.6" text-anchor="end" font-family="Liberation Sans" font-size="5.6" letter-spacing="0.5" fill="#111" stroke="#111" stroke-width="0.12">1.0</text>
<text x="242.3" y="63.6" text-anchor="end" font-family="Liberation Sans" font-size="5.6" letter-spacing="0.5" fill="#111" stroke="#111" stroke-width="0.12">1.2</text>
<text x="242.3" y="45.6" text-anchor="end" font-family="Liberation Sans" font-size="5.6" letter-spacing="0.5" fill="#111" stroke="#111" stroke-width="0.12">1.4</text>
<text x="242.3" y="27.7" text-anchor="end" font-family="Liberation Sans" font-size="5.6" letter-spacing="0.5" fill="#111" stroke="#111" stroke-width="0.12">1.6</text>
<text x="248.5" y="178.6" text-anchor="middle" font-family="Liberation Sans" font-size="5.6" letter-spacing="0.95" fill="#111" stroke="#111" stroke-width="0.12">0.E+00</text>
<text x="285.1" y="178.6" text-anchor="middle" font-family="Liberation Sans" font-size="5.6" letter-spacing="0.95" fill="#111" stroke="#111" stroke-width="0.12">1.E-07</text>
<text x="321.7" y="178.6" text-anchor="middle" font-family="Liberation Sans" font-size="5.6" letter-spacing="0.95" fill="#111" stroke="#111" stroke-width="0.12">3.E-07</text>
<text x="358.3" y="178.6" text-anchor="middle" font-family="Liberation Sans" font-size="5.6" letter-spacing="0.95" fill="#111" stroke="#111" stroke-width="0.12">6.E-07</text>
<text x="394.9" y="178.6" text-anchor="middle" font-family="Liberation Sans" font-size="5.6" letter-spacing="0.95" fill="#111" stroke="#111" stroke-width="0.12">9.E-07</text>
<text x="431.5" y="178.6" text-anchor="middle" font-family="Liberation Sans" font-size="5.6" letter-spacing="0.95" fill="#111" stroke="#111" stroke-width="0.12">2.E-06</text>
<text x="468.1" y="178.6" text-anchor="middle" font-family="Liberation Sans" font-size="5.6" letter-spacing="0.95" fill="#111" stroke="#111" stroke-width="0.12">5.E-06</text>
<text x="504.7" y="178.6" text-anchor="middle" font-family="Liberation Sans" font-size="5.6" letter-spacing="0.95" fill="#111" stroke="#111" stroke-width="0.12">1.E-05</text>
<path d="M248.5 43.1V106.9M246.5 43.1h4M246.5 106.9h4M285.5 53.9V125.7M283.5 53.9h4M283.5 125.7h4M321.5 43.1V136.5M319.5 43.1h4M319.5 136.5h4M358.5 80.8V125.7M356.5 80.8h4M356.5 125.7h4M394.5 110.5V130.2M392.5 110.5h4M392.5 130.2h4M431.5 133.8V167.9M429.5 133.8h4M429.5 167.9h4M246.5 49.4h4M319.7 66.5h4M430.0 141.9h3M430.0 153.5h3" stroke="#111" stroke-width="0.9" fill="none"/>
<polyline points="248.5,78.2 285.1,160.7 321.7,166.1 358.3,167.0 394.9,167.9 431.5,167.9 468.1,167.9 504.7,167.9" fill="none" stroke="#000" stroke-width="0.9"/>
<polyline points="248.5,78.2 285.1,120.3 321.7,96.1 358.3,138.3 394.9,143.7 431.5,160.3 468.1,167.0 504.7,167.9" fill="none" stroke="#000" stroke-width="0.9"/>
<polyline points="248.5,78.2 285.1,94.3 321.7,100.6 358.3,118.5 394.9,114.1 431.5,145.5 468.1,166.1 504.7,167.9" fill="none" stroke="#000" stroke-width="0.9"/>
<polyline points="248.5,78.2 285.1,78.2 321.7,78.2 358.3,103.3 394.9,127.5 431.5,146.6 468.1,166.6 504.7,167.9" fill="none" stroke="#000" stroke-width="0.9"/>
<polyline points="248.5,78.2 285.1,103.3 321.7,85.3 358.3,123.9 394.9,123.9 431.5,136.5 468.1,165.2 504.7,167.9" fill="none" stroke="#000" stroke-width="0.9"/>
<polyline points="248.5,78.2 285.1,87.1 321.7,82.6 358.3,103.3 394.9,114.9 431.5,160.7 468.1,164.8 504.7,167.9" fill="none" stroke="#000" stroke-width="0.9"/>
<path d="M248.5 75.4l2.9 4.7h-5.8z" fill="#000"/><path d="M285.1 157.89999999999998l2.9 4.7h-5.8z" fill="#000"/><path d="M321.7 163.29999999999998l2.9 4.7h-5.8z" fill="#000"/><path d="M358.3 164.2l2.9 4.7h-5.8z" fill="#000"/><path d="M248.5 76.068l2.214 3.608h-4.428z" fill="#fff" stroke="#000" stroke-width="0.8"/><path d="M285.1 118.16799999999999l2.214 3.608h-4.428z" fill="#fff" stroke="#000" stroke-width="0.8"/><path d="M321.7 93.96799999999999l2.214 3.608h-4.428z" fill="#fff" stroke="#000" stroke-width="0.8"/><path d="M358.3 136.168l2.214 3.608h-4.428z" fill="#fff" stroke="#000" stroke-width="0.8"/><path d="M394.9 141.56799999999998l2.214 3.608h-4.428z" fill="#fff" stroke="#000" stroke-width="0.8"/><path d="M431.5 158.168l2.214 3.608h-4.428z" fill="#fff" stroke="#000" stroke-width="0.8"/><path d="M468.1 164.868l2.214 3.608h-4.428z" fill="#fff" stroke="#000" stroke-width="0.8"/><circle cx="248.5" cy="78.2" r="1.804" fill="#fff" stroke="#000" stroke-width="0.8"/><circle cx="285.1" cy="94.3" r="1.804" fill="#fff" stroke="#000" stroke-width="0.8"/><circle cx="321.7" cy="100.6" r="1.804" fill="#fff" stroke="#000" stroke-width="0.8"/><circle cx="358.3" cy="118.5" r="1.804" fill="#fff" stroke="#000" stroke-width="0.8"/><circle cx="394.9" cy="114.1" r="1.804" fill="#fff" stroke="#000" stroke-width="0.8"/><circle cx="431.5" cy="145.5" r="1.804" fill="#fff" stroke="#000" stroke-width="0.8"/><circle cx="468.1" cy="166.1" r="1.804" fill="#fff" stroke="#000" stroke-width="0.8"/><path d="M248.5 75.9l2.3 2.3l-2.3 2.3l-2.3 -2.3z" fill="#000"/><path d="M285.1 75.9l2.3 2.3l-2.3 2.3l-2.3 -2.3z" fill="#000"/><path d="M321.7 75.9l2.3 2.3l-2.3 2.3l-2.3 -2.3z" fill="#000"/><path d="M358.3 101.0l2.3 2.3l-2.3 2.3l-2.3 -2.3z" fill="#000"/><path d="M394.9 125.2l2.3 2.3l-2.3 2.3l-2.3 -2.3z" fill="#000"/><path d="M431.5 144.29999999999998l2.3 2.3l-2.3 2.3l-2.3 -2.3z" fill="#000"/><path d="M468.1 164.29999999999998l2.3 2.3l-2.3 2.3l-2.3 -2.3z" fill="#000"/><rect x="246.696" y="76.396" width="3.608" height="3.608" fill="#fff" stroke="#000" stroke-width="0.8"/><rect x="283.29600000000005" y="101.496" width="3.608" height="3.608" fill="#fff" stroke="#000" stroke-width="0.8"/><rect x="319.896" y="83.496" width="3.608" height="3.608" fill="#fff" stroke="#000" stroke-width="0.8"/><rect x="356.49600000000004" y="122.096" width="3.608" height="3.608" fill="#fff" stroke="#000" stroke-width="0.8"/><rect x="393.096" y="122.096" width="3.608" height="3.608" fill="#fff" stroke="#000" stroke-width="0.8"/><rect x="429.696" y="134.696" width="3.608" height="3.608" fill="#fff" stroke="#000" stroke-width="0.8"/><rect x="466.29600000000005" y="163.396" width="3.608" height="3.608" fill="#fff" stroke="#000" stroke-width="0.8"/><rect x="246.368" y="76.068" width="4.264" height="4.264" fill="#000"/><rect x="282.968" y="84.96799999999999" width="4.264" height="4.264" fill="#000"/><rect x="319.568" y="80.46799999999999" width="4.264" height="4.264" fill="#000"/><rect x="356.168" y="101.16799999999999" width="4.264" height="4.264" fill="#000"/><rect x="392.768" y="112.768" width="4.264" height="4.264" fill="#000"/><rect x="429.368" y="158.56799999999998" width="4.264" height="4.264" fill="#000"/><rect x="465.968" y="162.668" width="4.264" height="4.264" fill="#000"/><rect x="502.896" y="166.096" width="3.608" height="3.608" fill="#fff" stroke="#000" stroke-width="0.8"/>
<text x="515.3" y="215.6" text-anchor="end" font-family="Liberation Serif" font-weight="bold" font-size="13.6">72 h AraC</text>
<text x="393.5" y="418.8" text-anchor="middle" font-family="Liberation Serif" font-weight="bold" font-size="14.2" stroke="#000" stroke-width="0.25">AraC concentration</text>
<text transform="translate(232 289) rotate(-90)" text-anchor="middle" font-family="Liberation Serif" font-weight="bold" font-size="14.4" stroke="#000" stroke-width="0.25">fraction control</text>
<path d="M256.3 226.9V370.3H520" stroke="#777" stroke-width="0.9" fill="none"/>
<path d="M253.8 370.3h2.5M253.8 352.4h2.5M253.8 334.5h2.5M253.8 316.5h2.5M253.8 298.6h2.5M253.8 280.7h2.5M253.8 262.8h2.5M253.8 244.9h2.5M253.8 226.9h2.5M256.4 370.3v2.8M282.5 370.3v2.8M308.6 370.3v2.8M334.7 370.3v2.8M360.8 370.3v2.8M386.9 370.3v2.8M413.0 370.3v2.8M439.1 370.3v2.8M465.2 370.3v2.8M491.3 370.3v2.8M517.4 370.3v2.8" stroke="#777" stroke-width="0.8" fill="none"/>
<text x="250.3" y="372.9" text-anchor="end" font-family="Liberation Sans" font-size="7.5" fill="#1a1a1a">0.0</text>
<text x="250.3" y="355.0" text-anchor="end" font-family="Liberation Sans" font-size="7.5" fill="#1a1a1a">0.2</text>
<text x="250.3" y="337.1" text-anchor="end" font-family="Liberation Sans" font-size="7.5" fill="#1a1a1a">0.4</text>
<text x="250.3" y="319.1" text-anchor="end" font-family="Liberation Sans" font-size="7.5" fill="#1a1a1a">0.6</text>
<text x="250.3" y="301.2" text-anchor="end" font-family="Liberation Sans" font-size="7.5" fill="#1a1a1a">0.8</text>
<text x="250.3" y="283.3" text-anchor="end" font-family="Liberation Sans" font-size="7.5" fill="#1a1a1a">1.0</text>
<text x="250.3" y="265.4" text-anchor="end" font-family="Liberation Sans" font-size="7.5" fill="#1a1a1a">1.2</text>
<text x="250.3" y="247.5" text-anchor="end" font-family="Liberation Sans" font-size="7.5" fill="#1a1a1a">1.4</text>
<text x="250.3" y="229.5" text-anchor="end" font-family="Liberation Sans" font-size="7.5" fill="#1a1a1a">1.6</text>
<text transform="translate(252.4 384.6) rotate(-49)" text-anchor="end" font-family="Liberation Sans" font-size="7.6" fill="#111" stroke="#111" stroke-width="0.15">0.E+00</text>
<text transform="translate(278.5 384.6) rotate(-49)" text-anchor="end" font-family="Liberation Sans" font-size="7.6" fill="#111" stroke="#111" stroke-width="0.15">1.E-09</text>
<text transform="translate(304.6 384.6) rotate(-49)" text-anchor="end" font-family="Liberation Sans" font-size="7.6" fill="#111" stroke="#111" stroke-width="0.15">1.E-08</text>
<text transform="translate(330.7 384.6) rotate(-49)" text-anchor="end" font-family="Liberation Sans" font-size="7.6" fill="#111" stroke="#111" stroke-width="0.15">5.E-08</text>
<text transform="translate(356.8 384.6) rotate(-49)" text-anchor="end" font-family="Liberation Sans" font-size="7.6" fill="#111" stroke="#111" stroke-width="0.15">1.E-07</text>
<text transform="translate(382.9 384.6) rotate(-49)" text-anchor="end" font-family="Liberation Sans" font-size="7.6" fill="#111" stroke="#111" stroke-width="0.15">3.E-07</text>
<text transform="translate(409.0 384.6) rotate(-49)" text-anchor="end" font-family="Liberation Sans" font-size="7.6" fill="#111" stroke="#111" stroke-width="0.15">6.E-07</text>
<text transform="translate(435.1 384.6) rotate(-49)" text-anchor="end" font-family="Liberation Sans" font-size="7.6" fill="#111" stroke="#111" stroke-width="0.15">9.E-07</text>
<text transform="translate(461.2 384.6) rotate(-49)" text-anchor="end" font-family="Liberation Sans" font-size="7.6" fill="#111" stroke="#111" stroke-width="0.15">2.E-06</text>
<text transform="translate(487.3 384.6) rotate(-49)" text-anchor="end" font-family="Liberation Sans" font-size="7.6" fill="#111" stroke="#111" stroke-width="0.15">5.E-06</text>
<text transform="translate(513.4 384.6) rotate(-49)" text-anchor="end" font-family="Liberation Sans" font-size="7.6" fill="#111" stroke="#111" stroke-width="0.15">1.E-05</text>
<path d="M256.5 267.3V294.1M254.5 267.3h4M254.5 294.1h4M282.5 285.2V307.6M280.5 285.2h4M280.5 307.6h4M308.5 266.4V296.8M306.5 266.4h4M306.5 296.8h4M334.5 252.0V265.5M332.5 252.0h4M332.5 265.5h4M360.5 244.9V261.0M358.5 244.9h4M358.5 261.0h4M386.5 246.7V271.7M384.5 246.7h4M384.5 271.7h4M439.5 292.3V301.3M437.5 292.3h4M437.5 301.3h4M465.5 294.1V300.4M463.5 294.1h4M463.5 300.4h4M491.5 287.0V304.0M489.5 287.0h4M489.5 304.0h4M254.4 273.5h4M254.4 269.9h4M254.4 287.9h4M254.4 291.5h4" stroke="#111" stroke-width="0.9" fill="none"/>
<polyline points="256.4,280.7 282.5,290.6 308.6,292.3 334.7,259.2 360.8,252.5 386.9,259.2 413.0,298.6 439.1,297.3 465.2,296.8 491.3,294.5 517.4,290.6" fill="none" stroke="#000" stroke-width="1"/>
<polyline points="256.4,280.7 282.5,296.8 308.6,274.7 334.7,364.2 360.8,366.2 386.9,366.7 413.0,366.2 439.1,366.2 465.2,366.2 491.3,366.7 517.4,366.7" fill="none" stroke="#000" stroke-width="1"/>
<polyline points="256.4,280.7 282.5,287.3 308.6,287.9 334.7,364.0 360.8,365.8 386.9,366.3 413.0,365.8 439.1,365.4 465.2,365.4 491.3,366.3 517.4,366.3" fill="none" stroke="#000" stroke-width="1"/>
<path d="M256.4 277.59499999999997l3.105 3.105l-3.105 3.105l-3.105 -3.105z" fill="#000"/><path d="M282.5 287.495l3.105 3.105l-3.105 3.105l-3.105 -3.105z" fill="#000"/><path d="M308.6 289.195l3.105 3.105l-3.105 3.105l-3.105 -3.105z" fill="#000"/><path d="M334.7 256.09499999999997l3.105 3.105l-3.105 3.105l-3.105 -3.105z" fill="#000"/><path d="M360.8 249.395l3.105 3.105l-3.105 3.105l-3.105 -3.105z" fill="#000"/><path d="M386.9 256.09499999999997l3.105 3.105l-3.105 3.105l-3.105 -3.105z" fill="#000"/><circle cx="413.0" cy="298.6" r="2.6449999999999996" fill="#000"/><path d="M439.1 294.195l3.105 3.105l-3.105 3.105l-3.105 -3.105z" fill="#000"/><path d="M465.2 293.695l3.105 3.105l-3.105 3.105l-3.105 -3.105z" fill="#000"/><path d="M491.3 291.395l3.105 3.105l-3.105 3.105l-3.105 -3.105z" fill="#000"/><circle cx="517.4" cy="290.6" r="2.6449999999999996" fill="#000"/><path d="M256.4 277.47999999999996l3.3349999999999995 5.404999999999999h-6.669999999999999z" fill="#000"/><path d="M282.5 293.58l3.3349999999999995 5.404999999999999h-6.669999999999999z" fill="#000"/><path d="M308.6 271.47999999999996l3.3349999999999995 5.404999999999999h-6.669999999999999z" fill="#000"/><path d="M334.7 360.97999999999996l3.3349999999999995 5.404999999999999h-6.669999999999999z" fill="#000"/><path d="M360.8 362.97999999999996l3.3349999999999995 5.404999999999999h-6.669999999999999z" fill="#000"/><path d="M386.9 363.47999999999996l3.3349999999999995 5.404999999999999h-6.669999999999999z" fill="#000"/><path d="M413.0 362.97999999999996l3.3349999999999995 5.404999999999999h-6.669999999999999z" fill="#000"/><path d="M439.1 362.97999999999996l3.3349999999999995 5.404999999999999h-6.669999999999999z" fill="#000"/><path d="M465.2 362.97999999999996l3.3349999999999995 5.404999999999999h-6.669999999999999z" fill="#000"/><path d="M491.3 363.47999999999996l3.3349999999999995 5.404999999999999h-6.669999999999999z" fill="#000"/><path d="M517.4 363.47999999999996l3.3349999999999995 5.404999999999999h-6.669999999999999z" fill="#000"/><path d="M254.2 278.5l4.4 4.4M258.59999999999997 278.5l-4.4 4.4M256.4 278.06v5.28" stroke="#000" stroke-width="0.9"/><path d="M280.3 285.1l4.4 4.4M284.7 285.1l-4.4 4.4M282.5 284.66v5.28" stroke="#000" stroke-width="0.9"/><path d="M306.40000000000003 285.7l4.4 4.4M310.8 285.7l-4.4 4.4M308.6 285.26v5.28" stroke="#000" stroke-width="0.9"/><path d="M332.5 361.8l4.4 4.4M336.9 361.8l-4.4 4.4M334.7 361.36v5.28" stroke="#000" stroke-width="0.9"/><path d="M358.6 363.6l4.4 4.4M363.0 363.6l-4.4 4.4M360.8 363.16v5.28" stroke="#000" stroke-width="0.9"/><path d="M384.7 364.1l4.4 4.4M389.09999999999997 364.1l-4.4 4.4M386.9 363.66v5.28" stroke="#000" stroke-width="0.9"/><path d="M410.8 363.6l4.4 4.4M415.2 363.6l-4.4 4.4M413.0 363.16v5.28" stroke="#000" stroke-width="0.9"/><path d="M436.90000000000003 363.2l4.4 4.4M441.3 363.2l-4.4 4.4M439.1 362.76v5.28" stroke="#000" stroke-width="0.9"/><path d="M463.0 363.2l4.4 4.4M467.4 363.2l-4.4 4.4M465.2 362.76v5.28" stroke="#000" stroke-width="0.9"/><path d="M489.1 364.1l4.4 4.4M493.5 364.1l-4.4 4.4M491.3 363.66v5.28" stroke="#000" stroke-width="0.9"/><path d="M515.1999999999999 364.1l4.4 4.4M519.6 364.1l-4.4 4.4M517.4 363.66v5.28" stroke="#000" stroke-width="0.9"/></svg>
</body></html>
